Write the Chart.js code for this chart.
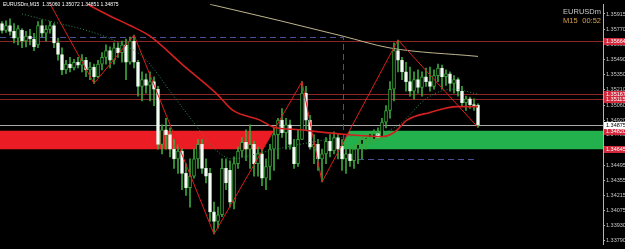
<!DOCTYPE html>
<html>
<head>
<meta charset="utf-8">
<script src="https://cdn.jsdelivr.net/npm/chart.js@4.4.1/dist/chart.umd.min.js"></script>
<style>
  html, body { margin: 0; padding: 0; background: #000; overflow: hidden; }
</style>
</head>
<body>
<canvas id="chart" width="625" height="249"></canvas>
<script>
// EURUSDm M15 - MT4 style chart

const SYMBOL = 'EURUSDm';
const PERIOD = 'M15';
const TIMER = '00:52';

// candles (oldest first)
const opens = [
    1.35825, 1.35761, 1.35807, 1.35752, 1.35689, 1.35761, 1.35662, 1.35707, 1.35680, 1.35625,
    1.35807, 1.35734, 1.35770, 1.35807, 1.35644, 1.35535, 1.35390, 1.35444, 1.35408, 1.35462,
    1.35435, 1.35481, 1.35390, 1.35417, 1.35326, 1.35444, 1.35508, 1.35571, 1.35481, 1.35598,
    1.35553, 1.35625, 1.35462, 1.35662, 1.35462, 1.35236, 1.35299, 1.35245, 1.35281, 1.35209,
    1.34692, 1.34828, 1.34783, 1.34647, 1.34556, 1.34629, 1.34420, 1.34285, 1.34393, 1.34556,
    1.34692, 1.34466, 1.34420, 1.34058, 1.33968, 1.34031, 1.34466, 1.34448, 1.34149, 1.34511,
    1.34629, 1.34711, 1.34647, 1.34692, 1.34511, 1.34602, 1.34375, 1.34484, 1.34647, 1.34783,
    1.34919, 1.34801, 1.34874, 1.34665, 1.34511, 1.34738, 1.35172, 1.34919, 1.34665, 1.34692,
    1.34556, 1.34602, 1.34720, 1.34629, 1.34756, 1.34674, 1.34556, 1.34602, 1.34538, 1.34647,
    1.34692, 1.34738, 1.34756, 1.34738, 1.34792, 1.34756, 1.34901, 1.35009, 1.35209, 1.35571,
    1.35481, 1.35372, 1.35281, 1.35191, 1.35299, 1.35227, 1.35326, 1.35281, 1.35236, 1.35336,
    1.35408, 1.35326, 1.35354, 1.35263, 1.35299, 1.35191, 1.35082, 1.35118, 1.35064, 1.35060
];
const highs = [
    1.35843, 1.35852, 1.35870, 1.35825, 1.35807, 1.35779, 1.35752, 1.35770, 1.35734, 1.35843,
    1.35861, 1.35807, 1.35843, 1.35825, 1.35689, 1.35598, 1.35481, 1.35508, 1.35490, 1.35508,
    1.35535, 1.35508, 1.35462, 1.35444, 1.35481, 1.35553, 1.35625, 1.35607, 1.35644, 1.35644,
    1.35662, 1.35680, 1.35698, 1.35716, 1.35481, 1.35372, 1.35354, 1.35372, 1.35326, 1.35236,
    1.34874, 1.34937, 1.34846, 1.34738, 1.34692, 1.34647, 1.34511, 1.34556, 1.34647, 1.34738,
    1.34738, 1.34556, 1.34466, 1.34149, 1.34103, 1.34556, 1.34556, 1.34538, 1.34574, 1.34665,
    1.34756, 1.34828, 1.34874, 1.34720, 1.34665, 1.34647, 1.34556, 1.34692, 1.34846, 1.34937,
    1.35028, 1.34937, 1.34919, 1.34738, 1.34828, 1.35281, 1.35236, 1.34964, 1.34783, 1.34738,
    1.34647, 1.34756, 1.34783, 1.34810, 1.34783, 1.34738, 1.34692, 1.34665, 1.34692, 1.34738,
    1.34783, 1.34792, 1.34810, 1.34828, 1.34846, 1.34937, 1.35055, 1.35281, 1.35644, 1.35671,
    1.35508, 1.35462, 1.35417, 1.35372, 1.35390, 1.35372, 1.35408, 1.35417, 1.35390, 1.35444,
    1.35435, 1.35390, 1.35372, 1.35336, 1.35317, 1.35236, 1.35145, 1.35136, 1.35118, 1.35072
];
const lows = [
    1.35734, 1.35743, 1.35716, 1.35644, 1.35625, 1.35598, 1.35607, 1.35625, 1.35571, 1.35598,
    1.35698, 1.35662, 1.35734, 1.35598, 1.35481, 1.35345, 1.35354, 1.35372, 1.35390, 1.35408,
    1.35372, 1.35326, 1.35299, 1.35263, 1.35317, 1.35390, 1.35444, 1.35408, 1.35444, 1.35508,
    1.35462, 1.35299, 1.35444, 1.35408, 1.35145, 1.35100, 1.35172, 1.35100, 1.35055, 1.34647,
    1.34602, 1.34647, 1.34574, 1.34466, 1.34420, 1.34267, 1.34212, 1.34103, 1.34375, 1.34466,
    1.34420, 1.34330, 1.33968, 1.33850, 1.33904, 1.34013, 1.34267, 1.34103, 1.34085, 1.34466,
    1.34574, 1.34538, 1.34466, 1.34393, 1.34393, 1.34303, 1.34267, 1.34357, 1.34448, 1.34556,
    1.34756, 1.34647, 1.34647, 1.34466, 1.34484, 1.34738, 1.34828, 1.34647, 1.34511, 1.34448,
    1.34339, 1.34511, 1.34574, 1.34602, 1.34556, 1.34448, 1.34420, 1.34484, 1.34466, 1.34511,
    1.34556, 1.34647, 1.34692, 1.34720, 1.34720, 1.34738, 1.34846, 1.34937, 1.35100, 1.35372,
    1.35299, 1.35191, 1.35145, 1.35118, 1.35172, 1.35145, 1.35236, 1.35191, 1.35209, 1.35281,
    1.35209, 1.35245, 1.35191, 1.35172, 1.35145, 1.35055, 1.35009, 1.35028, 1.35009, 1.34851
];
const closes = [
    1.35761, 1.35807, 1.35752, 1.35689, 1.35779, 1.35662, 1.35707, 1.35680, 1.35607, 1.35807,
    1.35734, 1.35770, 1.35807, 1.35644, 1.35535, 1.35390, 1.35444, 1.35408, 1.35462, 1.35435,
    1.35481, 1.35390, 1.35417, 1.35326, 1.35444, 1.35508, 1.35571, 1.35481, 1.35598, 1.35553,
    1.35625, 1.35462, 1.35662, 1.35462, 1.35236, 1.35299, 1.35245, 1.35281, 1.35209, 1.34692,
    1.34828, 1.34783, 1.34647, 1.34556, 1.34629, 1.34420, 1.34285, 1.34393, 1.34556, 1.34692,
    1.34466, 1.34393, 1.34058, 1.33968, 1.34031, 1.34466, 1.34330, 1.34149, 1.34511, 1.34629,
    1.34711, 1.34647, 1.34692, 1.34511, 1.34602, 1.34375, 1.34484, 1.34647, 1.34783, 1.34919,
    1.34801, 1.34874, 1.34692, 1.34511, 1.34738, 1.35172, 1.34919, 1.34665, 1.34692, 1.34556,
    1.34602, 1.34720, 1.34629, 1.34756, 1.34647, 1.34556, 1.34602, 1.34538, 1.34647, 1.34692,
    1.34738, 1.34756, 1.34792, 1.34792, 1.34756, 1.34901, 1.35009, 1.35209, 1.35571, 1.35481,
    1.35372, 1.35281, 1.35191, 1.35299, 1.35227, 1.35326, 1.35281, 1.35236, 1.35336, 1.35408,
    1.35326, 1.35354, 1.35263, 1.35299, 1.35191, 1.35082, 1.35118, 1.35064, 1.35046, 1.34875
];

// price axis
const priceMin = 1.33750;
const priceMax = 1.36006;
const priceTicks = [1.35915, 1.35770, 1.35630, 1.35490, 1.35350, 1.35210, 1.35060, 1.34920,
    1.34780, 1.34640, 1.34495, 1.34355, 1.34215, 1.34075, 1.33930, 1.33790];
const barSlots = 150.75; // visible bar slots incl. right shift

// zigzag vertices (bar index, price)
const zigIdx = [11, 23, 33, 53, 75, 80, 99, 119];
const zigPrice = [1.36080, 1.35263, 1.35716, 1.33850, 1.35281, 1.34339, 1.35671, 1.34851];

// red moving average
const maRedIdx = [19.5, 21.5, 27, 32, 37, 45.25, 53.75, 57.75, 64.5, 67.75, 74.5, 86.25, 95.25, 98.25, 101.25, 107, 113.75, 119];
const maRedPrice = [1.36060, 1.36006, 1.35897, 1.35807, 1.35707, 1.35435, 1.35163, 1.35010, 1.34919, 1.34855,
    1.34828, 1.34783, 1.34765, 1.34810, 1.34919, 1.34991, 1.35046, 1.35046];

// green dotted moving average
const maGreenIdx = [5, 14.5, 22, 29.5, 34.5, 37, 42, 47.5, 53.75, 57.5, 64.5, 74.5, 87, 93.75, 99.5, 106.25, 112.75, 119];
const maGreenPrice = [1.35915, 1.35825, 1.35752, 1.35644, 1.35535, 1.35444, 1.35191, 1.34919, 1.34629, 1.34556,
    1.34611, 1.34692, 1.34765, 1.34783, 1.34883, 1.35127, 1.35209, 1.35163];

// slow moving average
const maSlowIdx = [52, 69.5, 85.25, 96.75, 119];
const maSlowPrice = [1.36006, 1.35852, 1.35707, 1.35598, 1.35517];

// horizontal levels
const levelPrices = [1.35664, 1.35167, 1.35115];
const bidPrice = 1.34875;
const zoneTop = 1.34820;
const zoneBottom = 1.34645;
const blueUpper = 1.35698;
const blueLower = 1.34556;
const blueTurnIdx = 85.25;

// colours
const C_WICK = '#3aa63a';
const C_BULL_FILL = '#000000';
const C_BEAR_FILL = '#ffffff';
const C_ZIGZAG = '#dc1e1e';
const C_MA_RED = '#d42020';
const C_MA_GREEN = '#2f8f4f';
const C_MA_SLOW = '#bdb58c';
const C_LEVEL = '#8c2626';
const C_BID = '#a8a8a8';
const C_BLUE = '#4a4e96';
const C_ZONE_RED = '#ec1c24';
const C_ZONE_GREEN = '#22b14c';
const C_AXIS = '#c8c8c8';
const AXIS_FONT = 'Liberation Sans';

const toPoints = (xs, ys) => xs.map((x, i) => ({ x, y: ys[i] }));

const wickData = highs.map((h, i) => ({ x: i, y: [lows[i], h] }));
const bodyData = opens.map((o, i) => ({ x: i, y: [o, closes[i]] }));
const bodyFill = opens.map((o, i) => closes[i] >= o ? C_BULL_FILL : C_BEAR_FILL);
const bodyBorder = opens.map((o, i) => closes[i] >= o ? C_WICK : '#dff2df');

// zones, levels and axis price boxes
const overlay = {
    id: 'overlay',
    beforeDatasetsDraw(chart) {
        const { ctx, chartArea: a, scales: { x, y } } = chart;
        ctx.save();
        ctx.beginPath();
        ctx.rect(a.left, a.top, a.right - a.left, a.bottom - a.top);
        ctx.clip();

        // zones clipped by zigzag legs
        const legX = (seg, p) => {
            const [i0, i1] = seg;
            const t = (p - zigPrice[i0]) / (zigPrice[i1] - zigPrice[i0]);
            return x.getPixelForValue(zigIdx[i0] + t * (zigIdx[i1] - zigIdx[i0]));
        };
        const yt = y.getPixelForValue(zoneTop);
        const yb = y.getPixelForValue(zoneBottom);

        ctx.fillStyle = C_ZONE_RED;
        ctx.beginPath();
        ctx.moveTo(a.left, yt);
        ctx.lineTo(legX([3, 4], zoneTop), yt);
        ctx.lineTo(legX([3, 4], zoneBottom), yb);
        ctx.lineTo(a.left, yb);
        ctx.fill();

        ctx.fillStyle = C_ZONE_GREEN;
        ctx.beginPath();
        ctx.moveTo(legX([5, 6], zoneTop), yt);
        ctx.lineTo(a.right, yt);
        ctx.lineTo(a.right, yb);
        ctx.lineTo(legX([5, 6], zoneBottom), yb);
        ctx.fill();

        // horizontal lines
        ctx.lineWidth = 1;
        ctx.strokeStyle = C_LEVEL;
        levelPrices.forEach(p => {
            const py = Math.round(y.getPixelForValue(p)) + 0.5;
            ctx.beginPath();
            ctx.moveTo(a.left, py);
            ctx.lineTo(a.right, py);
            ctx.stroke();
        });
        ctx.strokeStyle = C_BID;
        const by = Math.round(y.getPixelForValue(bidPrice)) + 0.5;
        ctx.beginPath();
        ctx.moveTo(a.left, by);
        ctx.lineTo(a.right, by);
        ctx.stroke();

        // dashed blue box
        ctx.strokeStyle = C_BLUE;
        ctx.setLineDash([6, 4]);
        const bu = Math.round(y.getPixelForValue(blueUpper)) + 0.5;
        const bl = Math.round(y.getPixelForValue(blueLower)) + 0.5;
        const bx = Math.round(x.getPixelForValue(blueTurnIdx)) + 0.5;
        const ex = x.getPixelForValue(zigIdx[zigIdx.length - 1]);
        ctx.beginPath();
        ctx.moveTo(a.left, bu);
        ctx.lineTo(bx, bu);
        ctx.lineTo(bx, bl);
        ctx.lineTo(ex, bl);
        ctx.stroke();
        ctx.restore();
    },
    afterDraw(chart) {
        const { ctx, chartArea: a, scales: { y } } = chart;
        const W = chart.width;
        ctx.save();

        // price boxes on the axis
        const box = (p, bg, fg) => {
            const py = Math.round(y.getPixelForValue(p));
            ctx.fillStyle = bg;
            ctx.fillRect(a.right + 1, py - 3, W - a.right - 1, 7);
            ctx.fillStyle = fg;
            ctx.font = `5.5px "${AXIS_FONT}"`;
            ctx.textBaseline = 'middle';
            ctx.textAlign = 'left';
            ctx.fillText(p.toFixed(5), a.right + 3, py + 0.5);
        };
        [...levelPrices, zoneTop, zoneBottom].forEach(p => box(p, '#d2283c', '#ffffff'));
        box(bidPrice, '#ffffff', '#000000');

        // header text
        const n = closes.length - 1;
        ctx.font = `5px "${AXIS_FONT}"`;
        ctx.fillStyle = '#ffffff';
        ctx.textAlign = 'left';
        ctx.textBaseline = 'middle';
        ctx.fillText(`${SYMBOL},${PERIOD}  ${opens[n].toFixed(5)} ${highs[n].toFixed(5)} ${lows[n].toFixed(5)} ${closes[n].toFixed(5)}`, 3, 5);

        ctx.font = `7.5px "${AXIS_FONT}"`;
        ctx.fillStyle = '#c8c8c8';
        ctx.textAlign = 'right';
        ctx.fillText(SYMBOL, a.right - 2, 12);
        ctx.fillStyle = '#d4a04a';
        ctx.fillText(TIMER, a.right - 2, 21);
        ctx.textAlign = 'left';
        ctx.fillText(PERIOD, 563, 21);
        ctx.restore();
    }
};

const lineDefaults = { type: 'line', pointRadius: 0, fill: false, borderWidth: 1 };

new Chart(document.getElementById('chart'), {
    type: 'bar',
    data: {
        datasets: [
            { ...lineDefaults, data: toPoints(zigIdx, zigPrice), borderColor: C_ZIGZAG, tension: 0, order: 0 },
            { ...lineDefaults, data: toPoints(maRedIdx, maRedPrice), borderColor: C_MA_RED, borderWidth: 1.6,
              cubicInterpolationMode: 'monotone', order: 1 },
            { ...lineDefaults, data: toPoints(maGreenIdx, maGreenPrice), borderColor: C_MA_GREEN, borderDash: [1, 2],
              cubicInterpolationMode: 'monotone', order: 2 },
            { ...lineDefaults, data: toPoints(maSlowIdx, maSlowPrice), borderColor: C_MA_SLOW,
              cubicInterpolationMode: 'monotone', order: 3 },
            { data: bodyData, backgroundColor: bodyFill, borderColor: bodyBorder, borderWidth: 1,
              barThickness: 3, grouped: false, borderSkipped: false, order: 4 },
            { data: wickData, backgroundColor: C_WICK, barThickness: 1, grouped: false, order: 5 }
        ]
    },
    options: {
        responsive: false,
        animation: false,
        layout: { padding: 0 },
        plugins: { legend: { display: false }, tooltip: { enabled: false } },
        scales: {
            x: { type: 'linear', display: false, offset: false, min: -0.5, max: barSlots - 0.5 },
            y: {
                type: 'linear',
                position: 'right',
                min: priceMin,
                max: priceMax,
                afterBuildTicks: s => { s.ticks = priceTicks.map(v => ({ value: v })); },
                afterFit: s => { s.width = 22; },
                grid: { drawOnChartArea: false, drawTicks: true, tickLength: 2, color: '#b4b4b4' },
                border: { display: true, color: '#b4b4b4' },
                ticks: {
                    color: C_AXIS,
                    padding: 1,
                    autoSkip: false,
                    font: { family: AXIS_FONT, size: 5.5 },
                    callback: v => v.toFixed(5)
                }
            }
        }
    },
    plugins: [overlay]
});
</script>
</body>
</html>
